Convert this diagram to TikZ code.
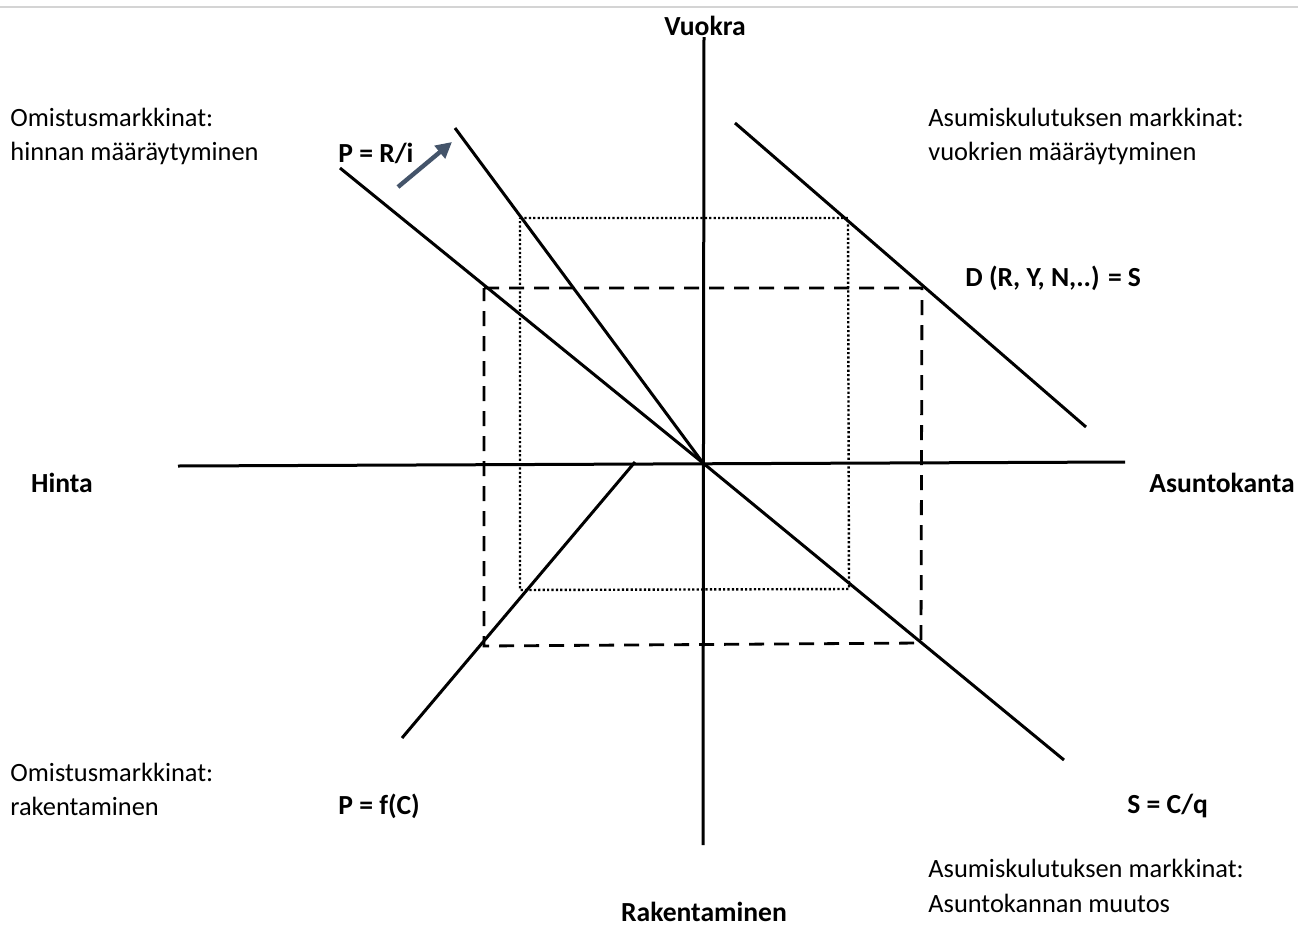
\documentclass[tikz,border=0pt]{standalone}
\usepackage{fontspec}
\setmainfont{Carlito}
\usetikzlibrary{arrows.meta}
\definecolor{arrowblue}{HTML}{44546A}
\definecolor{topgray}{HTML}{D4D4D4}
\tikzset{
  curve/.style={line width=1.5pt, black},
  dashbox/.style={line width=1.4pt, dash pattern=on 7.5pt off 5pt},
  dotbox/.style={line width=1.2pt, dash pattern=on 1.1pt off 1.1pt},
  lbl/.style={inner sep=0pt, font=\fontsize{13.2}{16}\selectfont},
  blbl/.style={inner sep=0pt, font=\fontsize{13.8}{17}\selectfont\bfseries},
}
\begin{document}
\begin{tikzpicture}[x=0.5pt, y=-0.5pt]
\useasboundingbox (0,0) rectangle (1298,927);
\draw[topgray, line width=1pt] (0,7) -- (1298,7);
% coordinates
\coordinate (O) at (703,463);
\coordinate (vtop) at (704,37);
\coordinate (vbot) at (703,845);
\coordinate (hl) at (178,466);
\coordinate (hr) at (1125,462);
\coordinate (steep) at (455,128);
\coordinate (shallow) at (340,168);
\coordinate (lowr) at (1064,760);
\coordinate (trs) at (735,123);
\coordinate (tre) at (1086,427);
\coordinate (lls) at (402,738);
\coordinate (lle) at (635,462);
\coordinate (arS) at (398,187);
\coordinate (arE) at (452,142);
% axes
\draw[curve] (vtop) -- (vbot);
\draw[curve] (hl) -- (hr);
% lines
\draw[curve] (steep) -- (O);
\draw[curve] (shallow) -- (O);
\draw[curve] (O) -- (lowr);
\draw[curve] (trs) -- (tre);
\draw[curve] (lls) -- (lle);
% rectangles
\coordinate (d1) at (484,288);
\coordinate (d2) at (922,288);
\coordinate (d3) at (921,643);
\coordinate (d4) at (484,646);
\draw[dashbox] (d1) -- (d2) -- (d3) -- (d4) -- cycle;
\coordinate (p1) at (520,218);
\coordinate (p2) at (848,218);
\coordinate (p3) at (849,589);
\coordinate (p4) at (520,590);
\draw[dotbox] (p1) -- (p2) -- (p3) -- (p4) -- cycle;
% arrow
\draw[arrowblue, line width=2.2pt, -{Triangle[length=8pt,width=8pt]}] (arS) -- (arE);
% labels
\node[blbl] (vuokra) at (705,26) {Vuokra};
\node[blbl] (hinta) at (62,483) {Hinta};
\node[blbl] (asuntokanta) at (1222,483) {Asuntokanta};
\node[blbl] (rak) at (704,912) {Rakentaminen};
\node[lbl, anchor=west] (tl1) at (10,117) {Omistusmarkkinat:};
\node[lbl, anchor=west] (tl2) at (10,153) {hinnan määräytyminen};
\node[blbl, anchor=west] (pri) at (338,153) {P = R/i};
\node[lbl, anchor=west] (tr1) at (928,117) {Asumiskulutuksen markkinat:};
\node[lbl, anchor=west] (tr2) at (928,153) {vuokrien määräytyminen};
\node[blbl, anchor=west] (dry) at (965,278) {D (R, Y, N,..) = S};
\node[lbl, anchor=west] (bl1) at (10,772) {Omistusmarkkinat:};
\node[lbl, anchor=west] (bl2) at (10,806) {rakentaminen};
\node[blbl, anchor=west] (pfc) at (338,806) {P = f(C)};
\node[blbl, anchor=west] (scq) at (1127,806) {S = C/q};
\node[lbl, anchor=west] (br1) at (928,868) {Asumiskulutuksen markkinat:};
\node[lbl, anchor=west] (br2) at (928,903) {Asuntokannan muutos};
\end{tikzpicture}
\end{document}
